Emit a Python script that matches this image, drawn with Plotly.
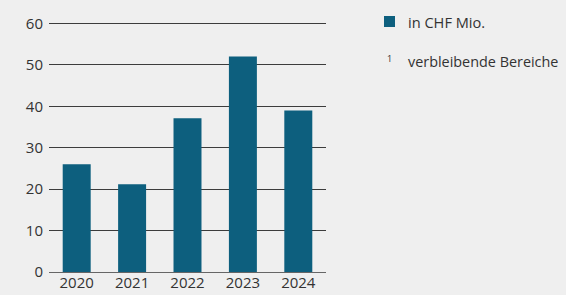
import plotly.graph_objects as go

years = ["2020", "2021", "2022", "2023", "2024"]
values = [26, 21.2, 37.1, 52, 39]
y_ticks = [0, 10, 20, 30, 40, 50, 60]
y_max = 60.6
legend_label = "in CHF Mio."
footnote_mark = "1"
footnote = "verbleibende Bereiche"

bar_color = "#0d5f7e"
bg = "#efefef"
txt = "#333333"
font = "Open Sans, Noto Sans, sans-serif"

fig = go.Figure()
fig.add_trace(go.Bar(x=years, y=values, marker_color=bar_color, marker_line_width=0, width=0.505))

L, R, T, B = 49, 326, 21, 272
W, H = R - L, B - T

fig.update_layout(
    width=566, height=295,
    margin=dict(l=L, r=566 - R, t=T, b=295 - B, autoexpand=False),
    paper_bgcolor=bg, plot_bgcolor=bg,
    showlegend=False,
    font=dict(family=font, size=15, color=txt),
    xaxis=dict(type="category", range=[-0.5, 4.5], showgrid=False, showline=False,
               ticks="", tickfont=dict(size=15, color=txt), automargin=False),
    yaxis=dict(range=[0, y_max], tickvals=y_ticks, showgrid=True, gridcolor="#3c3c3c",
               gridwidth=1, zeroline=True, zerolinecolor="#666666", zerolinewidth=1,
               ticks="", ticklabelstandoff=5, tickfont=dict(size=15, color=txt), automargin=False),
)

def px(xp):
    return (xp - L) / W

def py(yp):
    return (B - yp) / H

fig.add_shape(type="rect", xref="paper", yref="paper",
              x0=px(384), x1=px(395), y0=py(27), y1=py(16),
              fillcolor=bar_color, line_width=0)
fig.add_annotation(xref="paper", yref="paper", x=px(406), y=py(22),
                   text=legend_label, showarrow=False, xanchor="left", yanchor="middle",
                   font=dict(size=14.6, color=txt))
fig.add_annotation(xref="paper", yref="paper", x=px(385), y=py(59),
                   text=footnote_mark, showarrow=False, xanchor="left", yanchor="middle",
                   font=dict(size=9, color=txt))
fig.add_annotation(xref="paper", yref="paper", x=px(406), y=py(62),
                   text=footnote, showarrow=False, xanchor="left", yanchor="middle",
                   font=dict(size=14.4, color=txt))

fig.write_html("out.html", config={"displayModeBar": False},
               post_script="document.body.style.margin='0';document.body.style.overflow='hidden';")
